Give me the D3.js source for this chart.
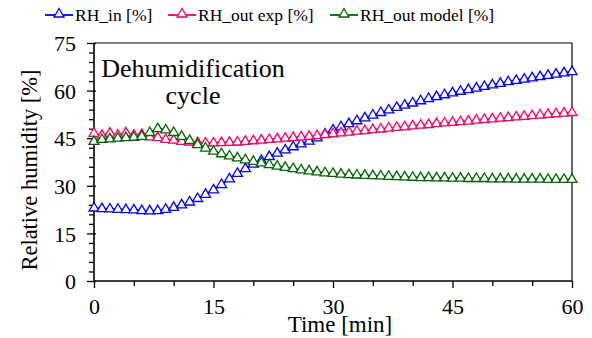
<!DOCTYPE html>
<html><head><meta charset="utf-8">
<script src="https://cdn.jsdelivr.net/npm/d3@7"></script>
<style>body{margin:0;background:#fff}svg{display:block}</style>
</head><body>
<svg id="c" width="592" height="338"></svg>
<script>
const time = d3.range(0, 61);
const rhIn = [23.0,22.8,22.7,22.6,22.5,22.4,22.2,22.1,22.2,22.6,23.2,24.0,24.9,26.0,27.3,28.7,30.4,32.2,33.9,35.4,36.8,38.0,39.2,40.3,41.3,42.3,43.2,44.1,45.1,46.3,47.6,48.6,49.6,50.5,51.4,52.3,53.1,53.9,54.7,55.4,56.1,56.8,57.5,58.1,58.7,59.3,59.8,60.3,60.8,61.3,61.8,62.3,62.8,63.2,63.6,64.0,64.4,64.8,65.2,65.6,66.0];
const rhOutExp = [46.5,45.9,46.6,46.0,46.7,46.0,46.2,45.4,45.2,44.6,44.4,44.0,43.8,43.6,43.5,43.5,43.6,43.7,43.8,44.0,44.2,44.4,44.6,44.8,45.0,45.2,45.4,45.6,45.8,46.1,46.4,46.7,46.9,47.2,47.4,47.7,47.9,48.2,48.4,48.6,48.9,49.1,49.3,49.6,49.8,50.0,50.2,50.4,50.7,50.9,51.1,51.3,51.5,51.7,51.9,52.1,52.3,52.5,52.7,52.9,53.1];
const rhOutModel = [44.0,44.6,44.8,45.0,45.2,45.3,45.6,46.8,48.0,47.6,46.8,45.6,44.3,43.0,41.9,40.9,40.1,39.4,38.8,38.2,37.7,37.2,36.7,36.2,35.8,35.4,35.0,34.7,34.4,34.1,33.9,33.7,33.5,33.4,33.3,33.2,33.1,33.0,32.9,32.8,32.7,32.6,32.6,32.5,32.5,32.4,32.4,32.3,32.3,32.3,32.2,32.2,32.2,32.1,32.1,32.1,32.1,32.0,32.0,32.0,32.0];
const seriesNames = ["RH_in [%]", "RH_out exp [%]", "RH_out model [%]"];
const seriesColors = ["#0000ff", "#ff0066", "#006600"];
const xTicks = [0, 15, 30, 45, 60];
const yTicks = [0, 15, 30, 45, 60, 75];

const FONT = "Liberation Serif, Times New Roman, DejaVu Serif, serif";
const svg = d3.select("#c");
const L = 94, R = 572, T = 43, B = 281;
const x = d3.scaleLinear().domain([0, 60]).range([L, R]);
const y = d3.scaleLinear().domain([0, 75]).range([B, T]);
const txt = (sel) => sel.attr("font-family", FONT).attr("fill", "#000");

// frame
svg.append("line").attr("x1", L).attr("x2", R).attr("y1", T).attr("y2", T).attr("stroke", "#555").attr("stroke-width", 1.5);
svg.append("line").attr("x1", R).attr("x2", R).attr("y1", T).attr("y2", B).attr("stroke", "#000").attr("stroke-width", 1.2);

// axes
const gx = svg.append("g").attr("transform", `translate(0,${B})`);
gx.call(d3.axisBottom(x).tickValues(d3.range(0, 61, 5)).tickSize(0).tickFormat(""));
gx.select(".domain").remove();
gx.selectAll(".tick").each(function(d){
  const major = xTicks.includes(d);
  d3.select(this).append("line").attr("y1", 0).attr("y2", major ? 7 : 5).attr("stroke", "#000").attr("stroke-width", 1.3);
  if (major) txt(d3.select(this).append("text")).attr("y", 33).attr("text-anchor", "middle").attr("font-size", 22).text(d);
});
const gy = svg.append("g").attr("transform", `translate(${L},0)`);
gy.call(d3.axisLeft(y).tickValues(d3.range(0, 76, 3)).tickSize(0).tickFormat(""));
gy.select(".domain").remove();
gy.selectAll(".tick").each(function(d){
  const major = yTicks.includes(d);
  d3.select(this).append("line").attr("x1", major ? -7 : -5).attr("x2", major ? 2 : 0).attr("stroke", "#000").attr("stroke-width", 1.3);
  if (major) txt(d3.select(this).append("text")).attr("x", -18).attr("dy", "0.35em").attr("text-anchor", "end").attr("font-size", 22).text(d);
});
svg.append("line").attr("x1", L).attr("x2", R).attr("y1", B).attr("y2", B).attr("stroke", "#000").attr("stroke-width", 1.6);
svg.append("line").attr("x1", L).attr("x2", L).attr("y1", T).attr("y2", B).attr("stroke", "#000").attr("stroke-width", 1.6);

// labels
txt(svg.append("text")).attr("x", 340).attr("y", 332).attr("text-anchor", "middle").attr("font-size", 23).text("Time [min]");
txt(svg.append("text")).attr("transform", `translate(37,170) rotate(-90)`).attr("text-anchor", "middle").attr("font-size", 22.5).text("Relative humidity [%]");
txt(svg.append("text")).attr("x", 193).attr("y", 77).attr("text-anchor", "middle").attr("font-size", 26).text("Dehumidification");
txt(svg.append("text")).attr("x", 193).attr("y", 104).attr("text-anchor", "middle").attr("font-size", 26).text("cycle");

// series
const tri = (cx, cy) => `M${cx},${cy - 5.5}L${cx + 5},${cy + 3}L${cx - 5},${cy + 3}Z`;
const allSeries = [rhIn, rhOutExp, rhOutModel];
const line = d3.line().x((d, i) => x(time[i])).y(d => y(d));
allSeries.forEach((vals, k) => {
  const g = svg.append("g");
  g.append("path").attr("d", line(vals)).attr("fill", "none").attr("stroke", seriesColors[k]).attr("stroke-width", 1.8);
  g.selectAll("path.m").data(vals).join("path").attr("class", "m")
    .attr("d", (d, i) => tri(x(time[i]), y(d))).attr("fill", "#fff").attr("stroke", seriesColors[k]).attr("stroke-width", 1.3);
});

// legend
const legX = [45, 168, 330];
seriesNames.forEach((n, k) => {
  const g = svg.append("g").attr("transform", `translate(${legX[k]},15)`);
  g.append("line").attr("x1", 0).attr("x2", 28).attr("y1", 0).attr("y2", 0).attr("stroke", seriesColors[k]).attr("stroke-width", 1.8);
  g.append("path").attr("d", tri(14, -1)).attr("fill", "#fff").attr("stroke", seriesColors[k]).attr("stroke-width", 1.3);
  txt(g.append("text")).attr("x", 30).attr("y", 6).attr("font-size", 17.5).text(n);
});
</script>
</body></html>
